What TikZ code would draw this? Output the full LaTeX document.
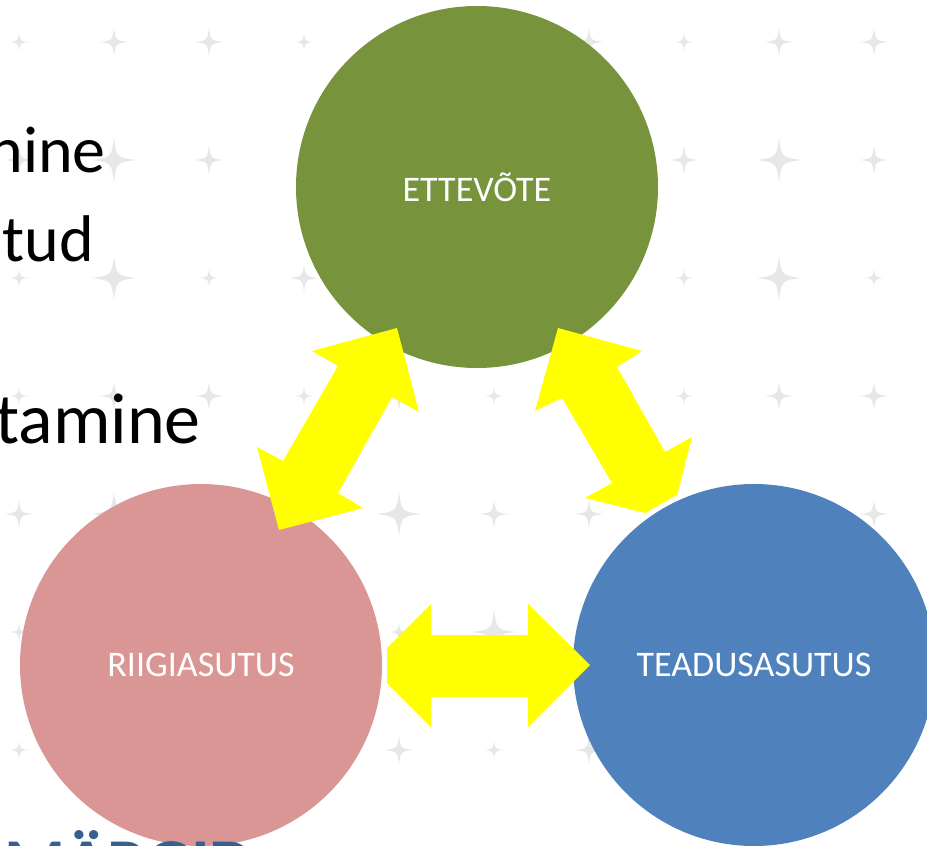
\documentclass[tikz,border=0pt]{standalone}
\usepackage{fontspec}
\setmainfont{Carlito}
\definecolor{cgreen}{HTML}{77933C}
\definecolor{cpink}{HTML}{D99694}
\definecolor{cblue}{HTML}{4F81BD}
\definecolor{cyellow}{HTML}{FFFF00}
\definecolor{starcol}{HTML}{E6E8E8}
\definecolor{titleblue}{HTML}{376092}
\tikzset{
  bubble/.style={circle, inner sep=0pt, minimum size=362pt, text=white,
    font=\fontsize{36}{43}\selectfont},
  bodytext/.style={anchor=base east, inner sep=0pt, font=\fontsize{66}{80}\selectfont},
  blockarrow/.style={fill=cyellow, draw=none},
}
\begin{document}
\begin{tikzpicture}[x=1pt,y=-1pt]
\useasboundingbox (0,0) rectangle (927,846);
\clip (0,0) rectangle (927,846);
\fill[white] (0,0) rectangle (927,846);
% star pattern
\foreach \r in {0,...,7} {
  \foreach \c in {0,...,9} {
    \pgfmathtruncatemacro\idx{mod(\r,3)*7+mod(\c,7)}
    \pgfmathsetmacro\a{{9,14,14,9,14,9,14, 14,22,14,9,22,14,14, 9,22,9,14,9,22,9}[\idx]}
    \begin{scope}[shift={(19+95*\c,42+118*\r)}]
      \fill[starcol] (0,-\a) .. controls (0.12*\a,-0.12*\a) .. (\a,0)
        .. controls (0.12*\a,0.12*\a) .. (0,\a)
        .. controls (-0.12*\a,0.12*\a) .. (-\a,0)
        .. controls (-0.12*\a,-0.12*\a) .. (0,-\a) -- cycle;
    \end{scope}
  }
}
% left texts
\node[bodytext] (t0) at (242,-12) {g};
\node[bodytext] (t1) at (106,172) {nine};
\node[bodytext] (t2) at (94,261) {tud};
\node[bodytext, font=\fontsize{72}{86}\selectfont] (t3) at (201,443) {tamine};
% circles
\node[bubble, fill=cgreen] (ett) at (477,187) {ETTEVÕTE};
\node[bubble, fill=cpink] (rii) at (201,665) {RIIGIASUTUS};
\node[bubble, fill=cblue] (tea) at (754,665) {TEADUSASUTUS};
\node[anchor=base west, inner sep=0pt, text=titleblue,
  font=\fontsize{70}{84}\selectfont\bfseries] (t4) at (4,887) {MÄRGID};
% arrows
\fill[blockarrow] (397,328) -- (419,412) -- (392,397) -- (338,493) -- (363,508)
  -- (279,530) -- (257,447) -- (283,461) -- (338,366) -- (312,351) -- cycle;
\fill[blockarrow] (558,328) -- (642,351) -- (617,367) -- (665,452) -- (692,437)
  -- (677,495) -- (645,513) -- (585,498) -- (612,483) -- (562,398) -- (535,411) -- cycle;
\fill[blockarrow] (387,648) -- (431,604) -- (431,635) -- (528,635) -- (528,604)
  -- (590,665) -- (528,727) -- (528,697) -- (431,697) -- (431,727) -- (387,683) -- cycle;
\end{tikzpicture}
\end{document}
